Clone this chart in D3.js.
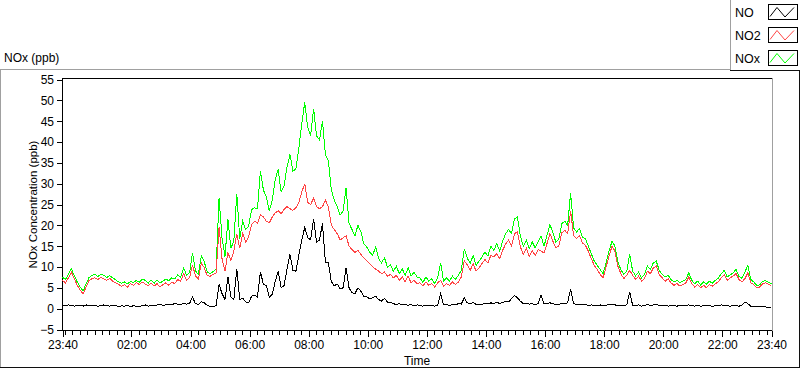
<!DOCTYPE html>
<html>
<head>
<meta charset="utf-8">
<script src="https://cdn.jsdelivr.net/npm/d3@7"></script>
<style>
body { margin: 0; background: #fff; }
text { font-family: "Liberation Sans", Arial, sans-serif; fill: #000; }
</style>
</head>
<body>
<script>
// samples every 6 minutes, starting 23:40
const startTime = new Date(2000, 0, 1, 23, 40);
const endTime = new Date(2000, 0, 2, 23, 40);
const stepMinutes = 6;

const seriesNames = ["NO", "NO2", "NOx"];

const noValues = [
    0.8, 0.7, 0.9, 0.8, 0.6, 0.7, 0.8, 0.6, 0.9, 0.7, 0.8,
    0.8, 0.6, 0.7, 0.9, 0.7, 0.6, 0.8, 0.7, 0.5, 0.7,
    0.6, 0.8, 0.5, 0.7, 0.6, 0.5, 0.7, 0.9, 0.6, 0.8,
    0.7, 0.9, 1.0, 0.8, 0.9, 1.1, 1.0, 1.2, 1.1, 1.0,
    1.3, 1.1, 1.2, 2.8, 1.2, 1.0, 1.7, 1.4, 0.8, 0.5,
    0.4, 0.8, 5.8, 3.6, 2.2, 7.6, 2.8, 2.2, 9.6, 2.2,
    2.5, 1.6, 1.4, 3.0, 3.2, 2.8, 8.8, 5.9, 5.5, 2.7,
    3.5, 6.5, 9.0, 5.1, 5.5, 9.5, 13.0, 9.2, 9.0, 12.8,
    16.5, 19.5, 17.0, 16.5, 21.5, 16.0, 16.5, 20.5, 11.0, 11.0,
    6.5, 5.5, 5.9, 4.8, 5.0, 9.8, 5.0, 3.8, 3.6, 5.0,
    4.2, 3.0, 2.8, 2.4, 2.6, 3.0, 2.2, 1.8, 2.5, 1.6,
    1.6, 1.2, 1.0, 1.2, 0.9, 1.0, 0.8, 1.0, 0.7, 0.9,
    0.8, 0.6, 0.9, 0.7, 0.8, 0.6, 0.9, 3.6, 0.9, 1.0,
    0.8, 1.0, 0.9, 1.2, 1.1, 2.6, 1.4, 1.2, 1.5, 1.0,
    1.1, 1.0, 1.3, 1.1, 1.4, 1.2, 1.6, 1.2, 1.5, 1.8,
    1.6, 2.4, 3.2, 2.6, 1.8, 1.2, 1.3, 1.1, 1.2, 1.0,
    1.2, 3.2, 1.1, 1.3, 1.4, 1.2, 0.9, 1.0, 1.3, 1.2,
    1.4, 4.8, 1.2, 1.0, 1.1, 0.9, 1.0, 0.8, 0.9, 0.7,
    0.8, 0.9, 0.7, 0.8, 1.0, 1.1, 0.9, 0.8, 0.7, 0.8,
    0.9, 4.0, 0.8, 0.7, 0.9, 0.6, 0.8, 1.0, 0.8, 0.9,
    1.0, 0.8, 0.7, 0.9, 0.6, 0.8, 0.7, 0.6, 0.8, 0.7,
    0.8, 0.9, 0.7, 0.6, 0.8, 0.6, 0.7, 0.8, 0.7, 0.6,
    0.7, 0.8, 0.9, 0.8, 0.7, 0.6, 0.8, 0.7, 0.6, 0.8,
    1.6, 1.2, 0.6, 0.5, 0.5, 0.4, 0.5, 0.4, 0.4, 0.3
];

const no2Values = [
    6.8, 6.2, 7.4, 8.8, 7.2, 5.6, 4.4, 3.6, 5.2, 6.8, 7.2,
    7.4, 7.0, 7.5, 7.1, 6.8, 7.3, 6.6, 6.2, 5.8, 5.4,
    5.8, 5.2, 6.0, 5.6, 6.2, 5.8, 6.4, 5.9, 5.5, 6.1,
    5.4, 6.0, 5.2, 5.8, 6.2, 5.6, 6.4, 6.0, 7.0, 6.6,
    8.4, 6.9, 7.4, 10.5, 7.9, 7.1, 11.0, 9.8, 7.9, 7.8,
    8.2, 8.6, 19.5, 12.0, 9.0, 13.5, 11.5, 13.8, 18.0, 14.5,
    18.0, 16.0, 17.2, 20.2, 21.0, 20.5, 22.5, 22.0, 21.0, 20.6,
    22.0, 23.0, 23.5, 22.8, 23.8, 24.5, 24.0, 23.6, 24.2, 25.5,
    28.0, 30.0, 25.5, 25.0, 26.5, 24.5, 24.0, 24.5, 26.0, 24.5,
    20.0, 19.0, 18.0, 16.5, 17.0, 17.5, 15.0, 14.2, 13.5, 14.0,
    13.0, 12.2, 11.5, 10.8, 10.0, 9.5, 9.0, 8.4, 8.8, 7.8,
    8.2, 7.4, 8.0, 6.8, 7.6, 6.4, 7.8, 6.2, 6.8, 6.0,
    6.2, 5.4, 6.4, 5.6, 6.0, 5.2, 6.2, 6.8, 5.4, 6.0,
    5.6, 6.4, 5.8, 6.4, 7.6, 11.5, 10.5, 9.2, 10.8, 9.0,
    9.8, 10.8, 11.8, 11.0, 12.8, 12.4, 13.2, 12.0, 14.0, 15.5,
    16.5, 15.0, 18.0, 18.5, 14.8, 13.0, 14.5, 12.5, 14.0, 12.8,
    14.2, 13.8, 13.4, 15.6, 18.0, 16.2, 14.6, 15.0, 18.2, 18.8,
    18.0, 23.4, 17.6, 16.8, 17.5, 15.8, 15.2, 13.8, 12.0, 10.4,
    9.4, 8.2, 7.4, 10.0, 12.6, 15.0, 13.8, 10.2, 8.4, 7.2,
    8.0, 9.2, 8.0, 7.0, 7.8, 6.6, 7.2, 9.0, 8.4, 9.8,
    10.2, 8.2, 7.4, 6.6, 7.2, 6.2, 5.6, 6.0, 5.4, 5.8,
    6.2, 7.6, 6.0, 5.2, 5.8, 5.0, 5.6, 5.0, 5.8, 5.4,
    6.0, 6.4, 7.4, 8.2, 6.8, 7.4, 7.8, 8.4, 7.0, 6.4,
    7.2, 8.6, 6.2, 5.8, 5.0, 5.2, 6.0, 6.2, 5.8, 5.6
];

const noxValues = [
    7.6, 7.0, 8.2, 9.6, 7.9, 6.4, 5.1, 4.3, 6.0, 7.5, 8.0,
    8.2, 7.7, 8.3, 8.0, 7.5, 7.9, 7.4, 6.9, 6.4, 6.1,
    6.4, 6.0, 6.5, 6.3, 6.8, 6.3, 7.1, 6.8, 6.1, 6.9,
    6.1, 6.9, 6.2, 6.6, 7.1, 6.7, 7.4, 7.2, 8.1, 7.6,
    9.8, 8.0, 8.6, 13.4, 9.1, 8.2, 12.7, 11.2, 8.8, 8.4,
    8.9, 9.6, 26.6, 17.0, 12.5, 21.5, 14.5, 16.2, 27.6, 16.8,
    21.0, 19.0, 19.8, 23.8, 24.2, 24.0, 33.0, 28.5, 26.8, 23.5,
    26.0, 31.0, 33.5, 28.0, 29.5, 34.0, 37.0, 33.0, 33.5, 38.5,
    44.5, 49.5, 43.5, 41.5, 48.0, 41.5, 40.5, 45.0, 37.0, 35.5,
    28.5, 26.0, 24.5, 22.5, 23.5, 29.0, 20.5, 19.0, 17.5, 20.0,
    18.5, 15.5, 14.8, 13.5, 12.8, 14.8, 12.0, 11.0, 12.2, 10.0,
    10.5, 9.0, 10.2, 8.4, 9.6, 8.0, 9.8, 7.8, 8.8, 7.6,
    7.4, 6.3, 7.6, 6.6, 7.2, 6.0, 7.5, 11.0, 6.6, 7.4,
    6.6, 7.8, 7.0, 8.0, 9.2, 14.4, 12.2, 10.8, 12.8, 10.4,
    11.4, 12.4, 13.6, 12.6, 15.0, 14.0, 15.6, 13.8, 16.2, 18.0,
    19.0, 18.0, 21.6, 22.0, 17.4, 15.0, 16.4, 14.4, 16.0, 14.6,
    16.0, 17.4, 15.0, 17.6, 20.2, 18.2, 16.0, 16.6, 20.4, 21.0,
    20.0, 27.8, 19.4, 18.4, 19.2, 17.2, 16.8, 15.0, 13.2, 11.4,
    10.4, 9.4, 8.4, 11.0, 13.8, 16.2, 15.0, 11.2, 9.4, 8.2,
    9.0, 13.0, 9.0, 7.9, 8.8, 7.4, 8.2, 10.2, 9.4, 11.0,
    11.4, 9.2, 8.2, 7.6, 8.0, 7.0, 6.4, 6.8, 6.3, 6.6,
    7.0, 8.6, 6.8, 6.0, 6.6, 5.7, 6.4, 5.9, 6.6, 6.1,
    6.8, 7.3, 8.4, 9.2, 7.6, 8.1, 8.6, 9.4, 7.7, 7.3,
    8.8, 10.4, 7.0, 6.4, 5.6, 5.7, 6.6, 6.7, 6.3, 6.0
];

const yTickValues = [-5, 0, 5, 10, 15, 20, 25, 30, 35, 40, 45, 50, 55];
const xLabelHours = [2, 4, 6, 8, 10, 12, 14, 16, 18, 20, 22];

ShowChart();

function ShowChart() {
    const width = 800;
    const height = 369;
    const plot = {left: 62.5, right: 771.5, top: 78.5, bottom: 330.5};

    var svg = d3.select("body").append("svg")
        .attr("width", width)
        .attr("height", height);

    const times = noValues.map((d, i) => d3.timeMinute.offset(startTime, i * stepMinutes));

    var xscale = d3.scaleTime()
        .domain([startTime, endTime])
        .range([plot.left, plot.right]);

    var yscale = d3.scaleLinear()
        .domain([-5, 55])
        .range([329.5, 79.5]);

    // outer panel border
    const gray = "#a0a0a0";
    const dark = "#101010";
    const frame = svg.append("g").attr("shape-rendering", "crispEdges");
    frame.append("line").attr("x1", 0).attr("x2", 731).attr("y1", 69.5).attr("y2", 69.5).attr("stroke", gray);
    frame.append("line").attr("x1", 0.5).attr("x2", 0.5).attr("y1", 69).attr("y2", 368).attr("stroke", gray);
    frame.append("line").attr("x1", 0).attr("x2", 800).attr("y1", 367.5).attr("y2", 367.5).attr("stroke", dark);
    frame.append("line").attr("x1", 799.5).attr("x2", 799.5).attr("y1", 70).attr("y2", 368).attr("stroke", dark);
    // legend box
    frame.append("line").attr("x1", 730.5).attr("x2", 730.5).attr("y1", 0).attr("y2", 70).attr("stroke", gray);
    frame.append("line").attr("x1", 730).attr("x2", 800).attr("y1", 70.5).attr("y2", 70.5).attr("stroke", dark);

    // plot frame
    frame.append("line").attr("x1", plot.left).attr("x2", 772).attr("y1", 78.5).attr("y2", 78.5).attr("stroke", "#000");
    frame.append("line").attr("x1", 772.5).attr("x2", 772.5).attr("y1", 78).attr("y2", 331).attr("stroke", gray);
    frame.append("line").attr("x1", plot.left).attr("x2", plot.left).attr("y1", 78).attr("y2", 331).attr("stroke", "#000");
    frame.append("line").attr("x1", 62).attr("x2", 772).attr("y1", 330.5).attr("y2", 330.5).attr("stroke", "#000");

    // y axis
    var yaxis = svg.append("g")
        .attr("transform", "translate(62, 0)")
        .attr("shape-rendering", "crispEdges")
        .call(d3.axisLeft(yscale).tickValues(yTickValues).tickSize(5).tickPadding(3));
    yaxis.select(".domain").remove();
    yaxis.selectAll("text").attr("font-size", "12px").attr("font-family", null);

    // x axis: minor ticks every 15 minutes
    var xminor = svg.append("g")
        .attr("transform", "translate(0, 331)")
        .attr("shape-rendering", "crispEdges")
        .call(d3.axisBottom(xscale).ticks(d3.timeMinute.every(15)).tickSize(3.5).tickFormat(""));
    xminor.select(".domain").remove();

    const majorTicks = [startTime]
        .concat(xLabelHours.map(h => new Date(2000, 0, 2, h, 0)))
        .concat([endTime]);
    var xaxis = svg.append("g")
        .attr("transform", "translate(0, 331)")
        .attr("shape-rendering", "crispEdges")
        .call(d3.axisBottom(xscale).tickValues(majorTicks).tickSize(6).tickPadding(3)
            .tickFormat(d3.timeFormat("%H:%M")));
    xaxis.select(".domain").remove();
    xaxis.selectAll("text").attr("font-size", "12px").attr("font-family", null);

    // data lines
    const line = d3.line()
        .x((d, i) => xscale(times[i]))
        .y(d => yscale(d));

    const lines = svg.append("g")
        .attr("fill", "none")
        .attr("stroke-width", 1)
        .attr("shape-rendering", "crispEdges");
    lines.append("path").attr("d", line(noxValues)).attr("stroke", "#00ff00");
    lines.append("path").attr("d", line(no2Values)).attr("stroke", "#ff4545");
    lines.append("path").attr("d", line(noValues)).attr("stroke", "#000");

    // titles
    svg.append("text")
        .attr("x", 4).attr("y", 62)
        .attr("font-size", "12px")
        .text("NOx (ppb)");
    svg.append("text")
        .attr("transform", `translate(37, ${(plot.top + plot.bottom) / 2}) rotate(-90)`)
        .attr("text-anchor", "middle")
        .attr("font-size", "11.5px")
        .text("NOx Concentration (ppb)");
    svg.append("text")
        .attr("x", (plot.left + plot.right) / 2).attr("y", 365)
        .attr("text-anchor", "middle")
        .attr("font-size", "12px")
        .text("Time");

    // legend
    const legendColors = {"NO": "#000", "NO2": "#ff4545", "NOx": "#00ff00"};
    var legend = svg.selectAll(".legend")
        .data(seriesNames)
        .enter()
        .append("g")
        .attr("class", "legend")
        .attr("transform", (d, i) => `translate(0, ${4.5 + i * 23})`);
    legend.append("text")
        .attr("x", 735).attr("y", 12.5)
        .attr("font-size", "12.5px")
        .text(d => d);
    legend.append("rect")
        .attr("x", 768.5).attr("y", 0)
        .attr("width", 29).attr("height", 15)
        .attr("fill", "#fff").attr("stroke", "#000")
        .attr("shape-rendering", "crispEdges");
    legend.append("path")
        .attr("d", "M770,12 L777,3 L785,12.5 L794,3")
        .attr("fill", "none")
        .attr("stroke", d => legendColors[d]);
}
</script>
</body>
</html>
